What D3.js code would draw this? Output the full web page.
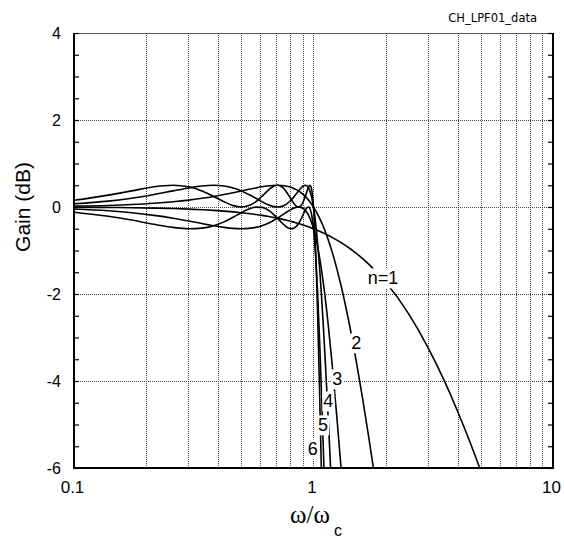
<!DOCTYPE html>
<html>
<head>
<meta charset="utf-8">
<script src="https://cdn.jsdelivr.net/npm/d3@7/dist/d3.min.js"></script>
<style>
  html, body { margin: 0; padding: 0; background: #fff; }
  svg { display: block; }
</style>
</head>
<body>
<svg id="chart" width="564" height="538"></svg>
<script>
// ---------------- data ----------------
const chartTitle = "CH_LPF01_data";
const xTickValues = [0.1, 1, 10];
const yTickValues = [-6, -4, -2, 0, 2, 4];
const xGridValues = [0.2, 0.3, 0.4, 0.5, 0.6, 0.7, 0.8, 0.9, 1, 2, 3, 4, 5, 6, 7, 8, 9];
const yGridValues = [-4, -2, 0, 2];

// passband frequencies (omega / omega_c)
const omegaPass = [0.1, 0.139, 0.174, 0.216, 0.259, 0.301, 0.342, 0.383, 0.423, 0.462, 0.5, 0.537, 0.574, 0.609, 0.643, 0.676, 0.707, 0.737, 0.766, 0.793, 0.819, 0.843, 0.866, 0.887, 0.906, 0.924, 0.940, 0.954, 0.966, 0.976, 0.985, 0.991, 0.996, 0.999, 1.0];

const gainPass1 = [-0.005, -0.01, -0.016, -0.025, -0.035, -0.048, -0.062, -0.077, -0.094, -0.112, -0.131, -0.150, -0.171, -0.192, -0.214, -0.235, -0.257, -0.279, -0.300, -0.321, -0.342, -0.362, -0.380, -0.398, -0.415, -0.430, -0.444, -0.457, -0.468, -0.478, -0.486, -0.492, -0.496, -0.499, -0.500];
const gainPass2 = [0.02, 0.036, 0.056, 0.085, 0.120, 0.158, 0.200, 0.243, 0.286, 0.329, 0.370, 0.406, 0.438, 0.465, 0.484, 0.496, 0.500, 0.496, 0.484, 0.465, 0.438, 0.406, 0.370, 0.329, 0.286, 0.243, 0.200, 0.158, 0.120, 0.085, 0.056, 0.032, 0.014, 0.004, 0];
const gainPass3 = [-0.046, -0.087, -0.131, -0.192, -0.257, -0.321, -0.380, -0.430, -0.468, -0.492, -0.500, -0.492, -0.468, -0.430, -0.380, -0.321, -0.257, -0.192, -0.131, -0.077, -0.035, -0.009, 0, -0.009, -0.035, -0.077, -0.131, -0.192, -0.257, -0.321, -0.380, -0.430, -0.468, -0.492, -0.500];
const gainPass4 = [0.073, 0.135, 0.200, 0.286, 0.370, 0.438, 0.484, 0.500, 0.484, 0.438, 0.370, 0.286, 0.200, 0.120, 0.056, 0.014, 0, 0.014, 0.056, 0.120, 0.200, 0.286, 0.370, 0.438, 0.484, 0.500, 0.484, 0.438, 0.370, 0.286, 0.200, 0.120, 0.056, 0.014, 0];
const gainPass5 = [-0.12, -0.214, -0.300, -0.398, -0.468, -0.499, -0.486, -0.430, -0.342, -0.235, -0.131, -0.048, -0.004, -0.009, -0.062, -0.150, -0.257, -0.362, -0.444, -0.492, -0.496, -0.457, -0.380, -0.279, -0.171, -0.077, -0.016, -0.001, -0.035, -0.112, -0.214, -0.321, -0.415, -0.478, -0.500];
const gainPass6 = [0.153, 0.273, 0.370, 0.465, 0.500, 0.465, 0.370, 0.243, 0.120, 0.032, 0, 0.032, 0.120, 0.243, 0.370, 0.465, 0.500, 0.465, 0.370, 0.243, 0.120, 0.032, 0, 0.032, 0.120, 0.243, 0.370, 0.465, 0.500, 0.465, 0.370, 0.243, 0.120, 0.032, 0];

// stopband
const omegaStop1 = [1.1, 1.2, 1.3, 1.4, 1.5, 1.7, 2.0, 2.5, 3.0, 3.5, 4.0, 4.5, 5.0, 5.5];
const gainStop1 = [-0.598, -0.703, -0.814, -0.931, -1.054, -1.312, -1.726, -2.462, -3.219, -3.970, -4.702, -5.404, -6.075, -6.713];
const omegaStop2 = [1.05, 1.1, 1.15, 1.2, 1.3, 1.4, 1.5, 1.6, 1.7, 1.8];
const gainStop2 = [-0.208, -0.455, -0.739, -1.057, -1.782, -2.597, -3.470, -4.373, -5.284, -6.188];
const omegaStop3 = [1.02, 1.05, 1.1, 1.15, 1.2, 1.25, 1.3, 1.32];
const gainStop3 = [-0.687, -1.030, -1.761, -2.663, -3.690, -4.791, -5.928, -6.385];
const omegaStop4 = [1.01, 1.02, 1.04, 1.06, 1.08, 1.1, 1.12, 1.14, 1.16, 1.18, 1.2];
const gainStop4 = [-0.164, -0.356, -0.820, -1.386, -2.041, -2.768, -3.549, -4.366, -5.204, -6.051, -6.899];
const omegaStop5 = [1.01, 1.02, 1.03, 1.04, 1.06, 1.08, 1.10, 1.11];
const gainStop5 = [-0.769, -1.105, -1.507, -1.970, -3.053, -4.288, -5.607, -6.281];
const omegaStop6 = [1.005, 1.01, 1.02, 1.03, 1.04, 1.05, 1.06, 1.07, 1.08];
const gainStop6 = [-0.188, -0.409, -0.958, -1.635, -2.424, -3.297, -4.228, -5.195, -6.177];

// curve labels: text, and the (omega, dB) spot where each sits
const labelTexts = ["n=1", "2", "3", "4", "5", "6"];
const labelOmega = [1.951, 1.509, 1.257, 1.153, 1.096, 0.992];
const labelGain = [-1.632, -3.126, -3.954, -4.46, -5.011, -5.563];

// ---------------- build series ----------------
const passSets = [gainPass1, gainPass2, gainPass3, gainPass4, gainPass5, gainPass6];
const stopOmegas = [omegaStop1, omegaStop2, omegaStop3, omegaStop4, omegaStop5, omegaStop6];
const stopGains = [gainStop1, gainStop2, gainStop3, gainStop4, gainStop5, gainStop6];
const series = passSets.map((g, i) =>
  omegaPass.map((w, j) => [w, g[j]])
    .concat(stopOmegas[i].map((w, j) => [w, stopGains[i][j]])));

// ---------------- layout ----------------
const svg = d3.select("#chart");
const L = 74, R = 553, T = 33, B = 468;
const x = d3.scaleLog().domain([0.1, 10]).range([L, R]);
const y = d3.scaleLinear().domain([-6, 4]).range([B, T]);
const sans = "'Liberation Sans', Arial, Helvetica, sans-serif";

svg.append("defs").append("clipPath").attr("id", "plotclip")
  .append("rect").attr("x", L).attr("y", T).attr("width", R - L).attr("height", B - T);

// grid
const grid = svg.append("g").attr("stroke", "#444").attr("stroke-width", 1)
  .attr("stroke-dasharray", "1,1").attr("shape-rendering", "crispEdges");
grid.selectAll("line.v").data(xGridValues).join("line").attr("class", "v")
  .attr("x1", d => Math.round(x(d)) + 0.5).attr("x2", d => Math.round(x(d)) + 0.5)
  .attr("y1", T).attr("y2", B);
grid.selectAll("line.h").data(yGridValues).join("line").attr("class", "h")
  .attr("y1", d => Math.round(y(d)) + 0.5).attr("y2", d => Math.round(y(d)) + 0.5)
  .attr("x1", L).attr("x2", R);

// curves
const line = d3.line().x(d => x(d[0])).y(d => y(d[1])).curve(d3.curveMonotoneX);
svg.append("g").attr("clip-path", "url(#plotclip)")
  .selectAll("path").data(series).join("path")
  .attr("d", line).attr("fill", "none").attr("stroke", "#000").attr("stroke-width", 1.6);

// curve labels with white backgrounds
const labG = svg.append("g");
labelTexts.forEach((t, i) => {
  const g = labG.append("g");
  const txt = g.append("text").text(t)
    .attr("x", x(labelOmega[i])).attr("y", y(labelGain[i]) + 6.4)
    .attr("text-anchor", "middle").attr("font-family", sans).attr("font-size", 18).attr("fill", "#000");
  const bb = txt.node().getBBox();
  g.insert("rect", "text").attr("x", bb.x - 1).attr("y", bb.y).attr("width", bb.width + 2)
    .attr("height", bb.height).attr("fill", "#fff");
});

// frame
const frame = svg.append("g").attr("fill", "none");
frame.append("line").attr("x1", L).attr("x2", R).attr("y1", T + 0.5).attr("y2", T + 0.5)
  .attr("stroke", "#555").attr("stroke-width", 1);
frame.append("line").attr("x1", L).attr("x2", L).attr("y1", T).attr("y2", B + 1)
  .attr("stroke", "#000").attr("stroke-width", 2);
frame.append("line").attr("x1", R).attr("x2", R).attr("y1", T).attr("y2", B + 1)
  .attr("stroke", "#000").attr("stroke-width", 2);
frame.append("line").attr("x1", L - 1).attr("x2", R + 1).attr("y1", B).attr("y2", B)
  .attr("stroke", "#000").attr("stroke-width", 2);

// minor ticks (inward) on left and right
const minorY = d3.range(-6, 4.001, 0.5);
const leftTicks = svg.append("g").attr("transform", `translate(${L},0)`)
  .call(d3.axisLeft(y).tickValues(minorY).tickSize(-5).tickFormat(""));
const rightTicks = svg.append("g").attr("transform", `translate(${R},0)`)
  .call(d3.axisRight(y).tickValues(minorY).tickSize(-5).tickFormat(""));
[leftTicks, rightTicks].forEach(a => {
  a.select(".domain").remove();
  a.selectAll("line").attr("stroke", "#000").attr("stroke-width", 1.2);
});

// y tick labels
svg.append("g").selectAll("text").data(yTickValues).join("text")
  .attr("x", 61).attr("y", d => y(d) + 5.6)
  .attr("text-anchor", "end").attr("font-family", sans).attr("font-size", 16).attr("fill", "#000")
  .text(d => d);

// x tick labels
svg.append("g").selectAll("text").data(xTickValues).join("text")
  .attr("x", d => x(d) - 1.5).attr("y", 493)
  .attr("text-anchor", "middle").attr("font-family", sans).attr("font-size", 17).attr("fill", "#000")
  .text(d => String(d));

// axis titles
svg.append("text").attr("transform", "translate(30,207) rotate(-90)")
  .attr("text-anchor", "middle").attr("font-family", sans).attr("font-size", 21).attr("fill", "#000")
  .text("Gain (dB)");

const xt = svg.append("text").attr("x", 290).attr("y", 523)
  .attr("font-family", "'Liberation Serif', 'Times New Roman', serif").attr("font-size", 25).attr("fill", "#000");
xt.append("tspan").text("ω/ω");
svg.append("text").attr("x", 334).attr("y", 536)
  .attr("font-family", sans).attr("font-size", 16).attr("fill", "#000").text("c");

// chart title
svg.append("text").attr("x", 537).attr("y", 22).attr("text-anchor", "end")
  .attr("font-family", "'DejaVu Sans', Verdana, sans-serif").attr("font-size", 11.5).attr("fill", "#000")
  .text(chartTitle);
</script>
</body>
</html>
